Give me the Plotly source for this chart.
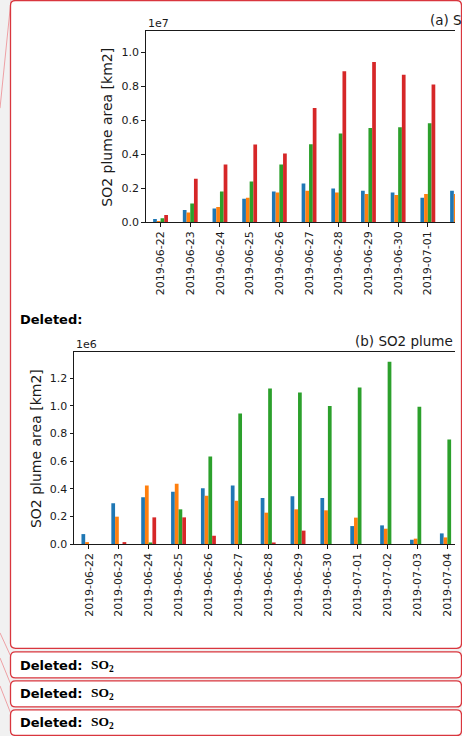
import plotly.graph_objects as go

# ---------------- data ----------------
dates_a = ["2019-06-22", "2019-06-23", "2019-06-24", "2019-06-25", "2019-06-26",
           "2019-06-27", "2019-06-28", "2019-06-29", "2019-06-30", "2019-07-01",
           "2019-07-02"]
a_blue = [0.20e6, 0.73e6, 0.81e6, 1.38e6, 1.81e6, 2.28e6, 1.99e6, 1.85e6, 1.75e6, 1.44e6, 1.85e6]
a_orange = [0.05e6, 0.57e6, 0.90e6, 1.44e6, 1.75e6, 1.85e6, 1.75e6, 1.67e6, 1.61e6, 1.67e6, 1.67e6]
a_green = [0.24e6, 1.10e6, 1.81e6, 2.40e6, 3.40e6, 4.59e6, 5.22e6, 5.55e6, 5.59e6, 5.83e6, None]
a_red = [0.43e6, 2.56e6, 3.40e6, 4.57e6, 4.04e6, 6.73e6, 8.88e6, 9.43e6, 8.68e6, 8.11e6, None]

dates_b = ["2019-06-22", "2019-06-23", "2019-06-24", "2019-06-25", "2019-06-26",
           "2019-06-27", "2019-06-28", "2019-06-29", "2019-06-30", "2019-07-01",
           "2019-07-02", "2019-07-03", "2019-07-04"]
b_blue = [0.072e6, 0.295e6, 0.338e6, 0.379e6, 0.403e6, 0.423e6, 0.333e6, 0.345e6, 0.333e6, 0.130e6, 0.135e6, 0.031e6, 0.077e6]
b_orange = [0.014e6, 0.198e6, 0.423e6, 0.437e6, 0.350e6, 0.314e6, 0.227e6, 0.251e6, 0.244e6, 0.191e6, 0.111e6, 0.039e6, 0.048e6]
b_green = [0.0, 0.0, 0.010e6, 0.251e6, 0.633e6, 0.944e6, 1.126e6, 1.097e6, 0.998e6, 1.133e6, 1.319e6, 0.993e6, 0.756e6]
b_red = [0.0, 0.014e6, 0.193e6, 0.193e6, 0.060e6, 0.0, 0.010e6, 0.097e6, 0.0, 0.0, 0.0, 0.0, 0.0]

series_names = ["series 1", "series 2", "series 3", "series 4"]
colors = ["#1f77b4", "#ff7f0e", "#2ca02c", "#d62728"]

ticks_a = [0, 2e6, 4e6, 6e6, 8e6, 1e7]
ticklabels_a = ["0.0", "0.2", "0.4", "0.6", "0.8", "1.0"]
ticks_b = [0, 2e5, 4e5, 6e5, 8e5, 1e6, 1.2e6]
ticklabels_b = ["0.0", "0.2", "0.4", "0.6", "0.8", "1.0", "1.2"]

# ---------------- layout helpers ----------------
W, H = 462, 736      # reference pixel space
FIG_H = 744          # rendered canvas height (compensates the capture squash)


def px(x):
    return x / W


def py(y):
    return 1 - y / H


TXT = "#1a1a1a"
RED = "#d9363e"
PINK = "#eea0a4"

fig = go.Figure()
for vals, name, col in zip([a_blue, a_orange, a_green, a_red], series_names, colors):
    fig.add_trace(go.Bar(x=dates_a, y=vals, name=name, marker_color=col,
                         marker_line_width=0, xaxis="x", yaxis="y", showlegend=False))
for vals, name, col in zip([b_blue, b_orange, b_green, b_red], series_names, colors):
    fig.add_trace(go.Bar(x=dates_b, y=vals, name=name, marker_color=col,
                         marker_line_width=0, xaxis="x2", yaxis="y2", showlegend=False))

axis_common = dict(showline=True, linecolor=TXT, linewidth=1, ticks="outside",
                   ticklen=3.5, tickwidth=0.8, tickcolor=TXT, showgrid=False,
                   zeroline=False, tickfont=dict(family="DejaVu Sans", size=11, color=TXT))


def rrect(x0, y0, x1, y1, r=4):
    X0, X1 = px(x0), px(x1)
    Y0, Y1 = py(y0), py(y1)
    rx, ry = r / W, r / H
    return (f"M {X0+rx},{Y0} L {X1-rx},{Y0} Q {X1},{Y0} {X1},{Y0-ry} "
            f"L {X1},{Y1+ry} Q {X1},{Y1} {X1-rx},{Y1} "
            f"L {X0+rx},{Y1} Q {X0},{Y1} {X0},{Y1+ry} "
            f"L {X0},{Y0-ry} Q {X0},{Y0} {X0+rx},{Y0} Z")


shapes = []
# connector lines in the margin
for (x0, y0, x1, y1) in [(11, 0, 0, 108), (0, 632, 11, 656), (0, 657, 11, 684), (0, 685, 11, 713)]:
    shapes.append(dict(type="line", xref="paper", yref="paper", x0=px(x0), y0=py(y0),
                       x1=px(x1), y1=py(y1), line=dict(color=PINK, width=1), layer="below"))
# big comment box
shapes.append(dict(type="path", xref="paper", yref="paper", path=rrect(10.5, 0.5, 461.5, 647.5, 5),
                   fillcolor="white", line=dict(color=RED, width=1.3), layer="below"))
# small deleted boxes
for (t, b) in [(651, 677), (680, 706), (709, 734.5)]:
    shapes.append(dict(type="path", xref="paper", yref="paper", path=rrect(10.5, t, 461.5, b, 5),
                       fillcolor="white", line=dict(color=RED, width=1.3), layer="below"))

ann = []


def text(s, x, y, size, xanchor="left", angle=0, family="DejaVu Sans", color=TXT):
    ann.append(dict(text=s, x=px(x), y=py(y), xref="paper", yref="paper", xanchor=xanchor,
                    yanchor="middle", showarrow=False, textangle=angle,
                    font=dict(family=family, size=size, color=color)))


text("(a) S", 428, 20, 13.5)
text("1e7", 146, 23, 11)
text("SO2 plume area [km2]", 107, 127.5, 14, xanchor="center", angle=-90)
text("(b) SO2 plume", 353, 341, 13.5)
text("1e6", 74, 344, 11)
text("SO2 plume area [km2]", 36, 448.5, 14, xanchor="center", angle=-90)
text("<b>Deleted:</b>", 18, 319, 13, color="#000000")
for yc in [665, 693, 721.5]:
    text("<b>Deleted:</b>", 18, yc, 13, color="#000000")
    text("<b>SO<sub>2</sub></b>", 89, yc, 13.5, family="Liberation Serif", color="#000000")

fig.update_layout(
    width=W, height=FIG_H, autosize=False,
    margin=dict(l=0, r=0, t=0, b=0),
    paper_bgcolor="#f1f1f1",
    plot_bgcolor="white",
    barmode="group", bargap=0.5, bargroupgap=0,
    showlegend=False,
    xaxis=dict(domain=[px(145.7), px(455)], anchor="y", type="category",
               range=[-0.5, 9.914], tickangle=-90, mirror=True, **axis_common),
    yaxis=dict(domain=[py(222), py(31)], anchor="x", range=[0, 1.125e7],
               tickvals=ticks_a, ticktext=ticklabels_a, **axis_common),
    xaxis2=dict(domain=[px(74), px(455)], anchor="y2", type="category",
                range=[-0.5, 12.255], tickangle=-90, mirror=True, **axis_common),
    yaxis2=dict(domain=[py(543.3), py(352)], anchor="x2", range=[0, 1.386e6],
                tickvals=ticks_b, ticktext=ticklabels_b, **axis_common),
    shapes=shapes,
    annotations=ann,
)

post = (
    "var s=document.createElement('style');"
    "s.textContent='html,body{margin:0;padding:0;overflow:hidden;}';"
    "document.head.appendChild(s);"
)
fig.write_html("out.html",
               config={"displayModeBar": False, "responsive": False},
               default_width="462px", default_height=f"{FIG_H}px",
               post_script=post)
